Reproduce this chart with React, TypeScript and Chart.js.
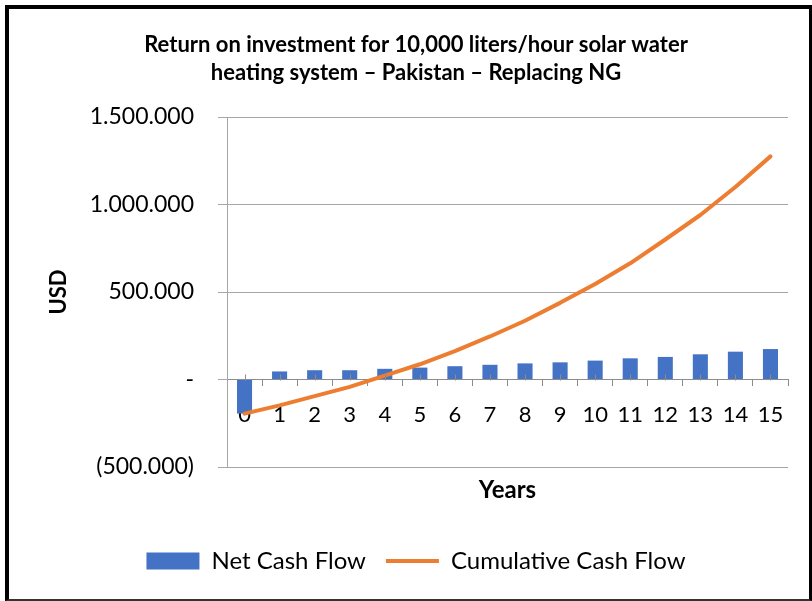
import React, { useEffect, useRef } from 'react';
import { Chart, registerables } from 'chart.js';

Chart.register(...registerables);

const years = ['0', '1', '2', '3', '4', '5', '6', '7', '8', '9', '10', '11', '12', '13', '14', '15'];
const netCashFlow = [-195000, 46000, 53000, 53000, 61000, 68000, 76000, 84000, 92000, 98000, 108000, 121000, 129000, 144000, 159000, 174000];
const cumulativeCashFlow = [-195000, -148000, -95000, -42000, 22000, 87000, 162000, 246000, 336000, 438000, 546000, 664000, 800000, 940000, 1100000, 1275000];
const yTickValues = [-500000, 0, 500000, 1000000, 1500000];
const titleLines = [
  'Return on investment for 10,000 liters/hour solar water',
  'heating system – Pakistan – Replacing NG',
];
const seriesNames = ['Net Cash Flow', 'Cumulative Cash Flow'];
const xTitle = 'Years';
const yTitle = 'USD';

const FONT = 'Lato, "Open Sans", "DejaVu Sans", sans-serif';
const BLUE = '#4472C4';
const ORANGE = '#ED7D31';

function formatUSD(v: number): string {
  if (v === 0) return '-';
  const s = Math.abs(v).toString().replace(/\B(?=(\d{3})+(?!\d))/g, '.');
  return v < 0 ? `(${s})` : s;
}

const centerMarks = {
  id: 'centerMarks',
  afterDatasetsDraw(chart: any) {
    const xs = chart.scales.x;
    const ys = chart.scales.y;
    const ctx = chart.ctx;
    const y0 = Math.round(ys.getPixelForValue(0)) + 0.5;
    ctx.save();
    ctx.strokeStyle = '#8c8c8c';
    ctx.lineWidth = 1;
    years.forEach((_, i) => {
      const x = Math.round(xs.getPixelForValue(i)) + 0.5;
      ctx.beginPath();
      ctx.moveTo(x, y0 - 6);
      ctx.lineTo(x, y0);
      ctx.stroke();
    });
    ctx.restore();
  },
};

export default function App() {
  const ref = useRef<HTMLCanvasElement | null>(null);

  useEffect(() => {
    if (!ref.current) return;
    const chart = new Chart(ref.current, {
      type: 'bar',
      data: {
        labels: years,
        datasets: [
          {
            type: 'bar',
            label: seriesNames[0],
            data: netCashFlow,
            backgroundColor: BLUE,
            barPercentage: 0.43,
            categoryPercentage: 1,
            order: 2,
          } as any,
          {
            type: 'line',
            label: seriesNames[1],
            data: cumulativeCashFlow,
            borderColor: ORANGE,
            backgroundColor: ORANGE,
            borderWidth: 4,
            pointRadius: 0,
            tension: 0,
            borderCapStyle: 'round',
            borderJoinStyle: 'round',
            order: 1,
          } as any,
        ],
      },
      options: {
        responsive: false,
        animation: false,
        layout: { padding: { left: 44, right: 24, top: 0, bottom: 18 } },
        plugins: {
          title: {
            display: true,
            text: titleLines,
            color: '#000',
            font: { family: FONT, size: 22, weight: 'bold', lineHeight: 28 / 22 },
            padding: { top: 31, bottom: 30 },
          },
          legend: {
            position: 'bottom',
            labels: {
              color: '#000',
              font: { family: FONT, size: 24 },
              padding: 20,
              usePointStyle: true,
              pointStyleWidth: 53,
              boxHeight: 17,
              generateLabels: (c: any) =>
                c.data.datasets.map((ds: any, i: number) => ({
                  text: ds.label,
                  fillStyle: ds.backgroundColor,
                  strokeStyle: ds.borderColor || ds.backgroundColor,
                  lineWidth: i === 1 ? 4 : 0,
                  pointStyle: i === 1 ? 'line' : 'rect',
                  hidden: false,
                  datasetIndex: i,
                  fontColor: '#000',
                })),
            },
          },
          tooltip: { enabled: false },
        },
        scales: {
          x: {
            type: 'category',
            position: { y: 0 } as any,
            z: 1,
            offset: true,
            grid: { offset: true, drawOnChartArea: false, drawTicks: true, tickLength: 6, color: '#8c8c8c' },
            border: { display: true, color: '#8c8c8c', width: 1 },
            ticks: { color: '#000', font: { family: FONT, size: 22 }, padding: 16, maxRotation: 0, autoSkip: false },
            afterFit: (s: any) => { s.height = 0; },
          },
          x2: {
            type: 'category',
            position: 'bottom',
            display: true,
            grid: { display: false },
            border: { display: false },
            ticks: { display: false },
            title: {
              display: true,
              text: xTitle,
              color: '#000',
              font: { family: FONT, size: 24, weight: 'bold' },
              padding: { top: 0, bottom: 24.6 },
            },
            afterFit: (s: any) => { s.height = 62; },
          },
          y: {
            min: yTickValues[0],
            max: yTickValues[yTickValues.length - 1],
            afterBuildTicks: (s: any) => { s.ticks = yTickValues.map((v) => ({ value: v })); },
            ticks: { color: '#000', font: { family: FONT, size: 23 }, padding: 24, callback: (v: any) => formatUSD(Number(v)) },
            grid: { color: '#a6a6a6', tickLength: 9 },
            border: { color: '#a6a6a6' },
            title: {
              display: true,
              text: yTitle,
              color: '#000',
              font: { family: FONT, size: 22, weight: 'bold' },
              padding: { top: 1.5, bottom: 0 },
            },
            afterFit: (s: any) => { s.width = 183; },
          },
        },
      } as any,
      plugins: [centerMarks],
    });
    return () => chart.destroy();
  }, []);

  return (
    <div style={{ position: 'absolute', left: 0, top: 0, width: 812, height: 601, background: '#fff' }}>
      <div
        style={{
          position: 'absolute',
          left: 5,
          top: 5,
          width: 807,
          height: 596,
          boxSizing: 'border-box',
          borderLeft: '4px solid #000',
          borderTop: '4px solid #000',
          borderRight: '3px solid #000',
          borderBottom: '2px solid #333',
        }}
      />
      <canvas ref={ref} width={812} height={601} style={{ position: 'absolute', left: 0, top: 0, width: 812, height: 601 }} />
    </div>
  );
}
